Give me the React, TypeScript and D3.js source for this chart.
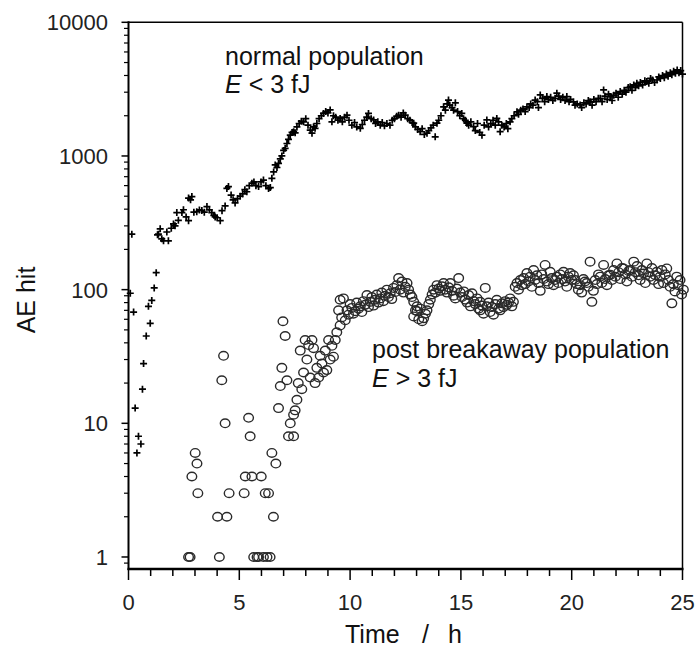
import React from 'react';
import * as d3 from 'd3';

// normal population (E < 3 fJ): [time h, AE hits]
const normalHits: [number, number][] = [
  [0.08, 94], [0.15, 260], [0.23, 68], [0.3, 13], [0.38, 6], [0.45, 8], [0.56, 7], [0.63, 18], [0.68, 28],
  [0.8, 45], [0.9, 75], [0.98, 56], [1.05, 83], [1.16, 103], [1.25, 134],
  [1.31, 257], [1.35, 260], [1.43, 285], [1.5, 240], [1.58, 232], [1.73, 270], [1.8, 232], [1.93, 288],
  [2.03, 310], [2.1, 300], [2.18, 377], [2.25, 330], [2.41, 377], [2.48, 396], [2.6, 350], [2.71, 328],
  [2.71, 484], [2.8, 470], [2.86, 497], [2.95, 380], [3.08, 383], [3.2, 395], [3.31, 391], [3.42, 380],
  [3.54, 418], [3.65, 395], [3.76, 377], [3.85, 360], [3.91, 350], [4.0, 345], [4.14, 328], [4.22, 390],
  [4.36, 423], [4.44, 572], [4.51, 590], [4.63, 510], [4.72, 470], [4.81, 445], [4.92, 480], [5.04, 500],
  [5.15, 520], [5.25, 560], [5.34, 540], [5.45, 600], [5.57, 625], [5.66, 640], [5.75, 600], [5.87, 590],
  [5.98, 640], [6.09, 660], [6.2, 600], [6.32, 570], [6.4, 580], [6.47, 680], [6.55, 760], [6.62, 857],
  [6.7, 820], [6.77, 880], [6.85, 950], [6.92, 1000], [7.0, 1100], [7.07, 1140], [7.15, 1240], [7.22, 1330],
  [7.3, 1430], [7.38, 1500], [7.45, 1520], [7.52, 1490], [7.6, 1650], [7.7, 1750], [7.8, 1820], [7.9, 1800],
  [8.0, 1900], [8.1, 1700], [8.2, 1560], [8.28, 1480], [8.35, 1650], [8.42, 1610], [8.5, 1750], [8.6, 1900],
  [8.7, 2000], [8.8, 2080], [8.9, 2150], [9.0, 2100], [9.1, 2210], [9.18, 1800], [9.25, 2000], [9.35, 1950],
  [9.45, 1850], [9.55, 1910], [9.65, 1800], [9.75, 1950], [9.86, 2020], [9.95, 1850], [10.08, 1700],
  [10.2, 1780], [10.3, 1650], [10.46, 1610], [10.55, 1720], [10.65, 1850], [10.75, 1950], [10.83, 2080],
  [10.95, 1900], [11.06, 1860], [11.15, 1750], [11.25, 1800], [11.36, 1700], [11.45, 1780], [11.55, 1680],
  [11.66, 1750], [11.8, 1700], [11.9, 1850], [12.0, 1900], [12.1, 1980], [12.19, 2020], [12.3, 1950],
  [12.4, 2100], [12.49, 2020], [12.6, 1900], [12.7, 1850], [12.8, 1780], [12.87, 1760], [12.95, 1650],
  [13.05, 1580], [13.16, 1520], [13.25, 1600], [13.35, 1450], [13.47, 1480], [13.55, 1550], [13.65, 1620],
  [13.75, 1700], [13.84, 1390], [13.92, 1760], [14.0, 1850], [14.1, 2000], [14.22, 2330], [14.3, 2200],
  [14.38, 2450], [14.44, 2620], [14.5, 2400], [14.6, 2300], [14.67, 2200], [14.75, 2500], [14.85, 2150],
  [14.95, 2000], [15.04, 2080], [15.12, 1900], [15.2, 1850], [15.27, 1760], [15.35, 1700], [15.45, 1800],
  [15.57, 1660], [15.65, 1550], [15.75, 1750], [15.85, 1500], [15.95, 1430], [16.05, 1700], [16.17, 1860],
  [16.25, 1650], [16.35, 1750], [16.45, 1850], [16.55, 1700], [16.62, 1910], [16.7, 1800], [16.77, 1520],
  [16.85, 1700], [16.95, 1650], [17.05, 1750], [17.12, 1600], [17.22, 1800], [17.3, 1900], [17.4, 2000],
  [17.53, 2140], [17.6, 2050], [17.7, 2200], [17.8, 2250], [17.9, 2150], [17.98, 2330], [18.08, 2300],
  [18.15, 2450], [18.25, 2400], [18.35, 2620], [18.45, 2550], [18.5, 2300], [18.58, 2860], [18.68, 2700],
  [18.78, 2550], [18.88, 2780], [18.95, 2650], [19.05, 2750], [19.15, 2600], [19.25, 2700], [19.33, 2950],
  [19.42, 2800], [19.5, 2650], [19.6, 2750], [19.7, 2600], [19.78, 2780], [19.88, 2550], [19.95, 2650],
  [20.08, 2540], [20.15, 2400], [20.25, 2450], [20.38, 2410], [20.45, 2300], [20.55, 2500], [20.65, 2450],
  [20.75, 2600], [20.83, 2540], [20.92, 2400], [21.0, 2650], [21.1, 2550], [21.2, 2700], [21.29, 2700],
  [21.37, 2550], [21.44, 3120], [21.5, 2800], [21.6, 2650], [21.66, 2900], [21.74, 2780], [21.82, 2600],
  [21.9, 2850], [22.0, 2950], [22.1, 2750], [22.19, 3030], [22.28, 2900], [22.37, 3100], [22.45, 3000],
  [22.55, 3250], [22.64, 3300], [22.72, 3100], [22.8, 3400], [22.88, 3250], [22.94, 3500], [23.02, 3350],
  [23.1, 3550], [23.2, 3400], [23.3, 3650], [23.39, 3600], [23.48, 3500], [23.56, 3800], [23.65, 3700],
  [23.74, 3550], [23.85, 3700], [23.93, 3900], [24.0, 3800], [24.1, 4000], [24.18, 3850], [24.27, 4100],
  [24.35, 3950], [24.45, 4200], [24.52, 4050], [24.6, 4300], [24.68, 4150], [24.76, 4400], [24.84, 4200],
  [24.92, 4350], [25.0, 4100],
];

// post breakaway population (E > 3 fJ)
const breakawayHits: [number, number][] = [
  [2.71, 1], [2.78, 1], [2.86, 4], [3.01, 6], [3.09, 5], [3.13, 3], [4.02, 2], [4.1, 1], [4.21, 21], [4.29, 32],
  [4.36, 10], [4.44, 2], [4.54, 3], [5.22, 3], [5.27, 4], [5.42, 11], [5.49, 8], [5.57, 4], [5.65, 1], [5.8, 1],
  [5.87, 1], [5.99, 4], [6.09, 1], [6.17, 3], [6.25, 1], [6.32, 3], [6.39, 1], [6.47, 6], [6.54, 2], [6.65, 5],
  [6.77, 13], [6.85, 19], [6.92, 26], [6.97, 58], [7.07, 45], [7.15, 21], [7.22, 8], [7.3, 10], [7.45, 8],
  [7.45, 11.6], [7.52, 12.5], [7.6, 15], [7.66, 20], [7.75, 35], [7.82, 18], [7.9, 24], [7.97, 42], [8.05, 30],
  [8.13, 38.5], [8.2, 22], [8.28, 42], [8.35, 36.5], [8.42, 20], [8.5, 26], [8.58, 22], [8.65, 32], [8.73, 28],
  [8.8, 24], [8.88, 35], [8.95, 25], [9.03, 42], [9.1, 30], [9.18, 38], [9.25, 31.5], [9.33, 42], [9.4, 48],
  [9.48, 70], [9.55, 54], [9.55, 84], [9.62, 62], [9.7, 86], [9.78, 59], [9.86, 70], [9.93, 65], [10.0, 78],
  [10.08, 73], [10.15, 66], [10.23, 69], [10.3, 80], [10.38, 72], [10.46, 75], [10.53, 68], [10.6, 82],
  [10.68, 77], [10.76, 91], [10.83, 74], [10.91, 81], [10.98, 88], [11.06, 76], [11.13, 84], [11.2, 92],
  [11.28, 80], [11.36, 86], [11.43, 95], [11.5, 82], [11.58, 90], [11.66, 100], [11.73, 88], [11.81, 94],
  [11.88, 85], [11.96, 103], [12.04, 96], [12.11, 108], [12.19, 122], [12.26, 100], [12.34, 115], [12.41, 95],
  [12.49, 105], [12.57, 112], [12.64, 100], [12.72, 92], [12.79, 88], [12.87, 81], [12.87, 63], [12.95, 70],
  [13.02, 75], [13.02, 69], [13.1, 60], [13.17, 72], [13.25, 58], [13.32, 61], [13.4, 66], [13.47, 70],
  [13.55, 78], [13.62, 84], [13.7, 92], [13.77, 100], [13.85, 95], [13.92, 108], [14.0, 102], [14.07, 98],
  [14.15, 106], [14.22, 112], [14.3, 100], [14.37, 95], [14.45, 104], [14.52, 112], [14.6, 98], [14.67, 90],
  [14.75, 86], [14.82, 102], [14.9, 122], [14.97, 95], [15.05, 88], [15.13, 97], [15.2, 84], [15.28, 80],
  [15.35, 91], [15.43, 75], [15.5, 94], [15.58, 82], [15.65, 78], [15.73, 86], [15.8, 72], [15.87, 81],
  [15.87, 70], [15.95, 76], [16.02, 66], [16.1, 103], [16.17, 75], [16.25, 80], [16.32, 68], [16.4, 74],
  [16.47, 65], [16.55, 78], [16.62, 84], [16.7, 72], [16.77, 70], [16.85, 79], [16.92, 74], [17.0, 82],
  [17.07, 77], [17.15, 80], [17.22, 86], [17.3, 75], [17.37, 81], [17.45, 105], [17.53, 112], [17.6, 100],
  [17.68, 118], [17.75, 108], [17.83, 122], [17.9, 110], [17.98, 133], [18.05, 115], [18.13, 125], [18.2, 105],
  [18.28, 140], [18.35, 118], [18.43, 128], [18.5, 112], [18.58, 98], [18.65, 130], [18.73, 120], [18.8, 153],
  [18.88, 115], [18.95, 110], [19.03, 136], [19.1, 122], [19.18, 108], [19.25, 118], [19.33, 125], [19.4, 112],
  [19.48, 130], [19.55, 120], [19.63, 136], [19.7, 115], [19.78, 105], [19.85, 125], [19.93, 133], [20.0, 118],
  [20.08, 128], [20.16, 118], [20.23, 110], [20.3, 100], [20.38, 108], [20.45, 95], [20.53, 120], [20.6, 115],
  [20.68, 112], [20.75, 105], [20.83, 162], [20.91, 81], [20.98, 98], [21.06, 118], [21.14, 110], [21.21, 130],
  [21.29, 125], [21.36, 112], [21.44, 153], [21.51, 120], [21.59, 108], [21.66, 128], [21.74, 129], [21.82, 118],
  [21.89, 140], [21.97, 125], [22.04, 157], [22.12, 135], [22.19, 120], [22.27, 145], [22.34, 144], [22.42, 130],
  [22.49, 115], [22.57, 138], [22.64, 140], [22.72, 125], [22.8, 162], [22.87, 135], [22.95, 150], [23.02, 128],
  [23.09, 118], [23.17, 140], [23.24, 132], [23.32, 112], [23.39, 157], [23.47, 135], [23.54, 125], [23.62, 145],
  [23.69, 118], [23.77, 128], [23.84, 136], [23.92, 110], [23.99, 125], [24.07, 140], [24.14, 112], [24.22, 130],
  [24.29, 144], [24.37, 118], [24.44, 105], [24.52, 79], [24.59, 110], [24.66, 97], [24.74, 125], [24.81, 108],
  [24.89, 118], [24.96, 92], [25.04, 100],
];

const xMajorTicks = [0, 5, 10, 15, 20, 25];
const yMajorTicks = [1, 10, 100, 1000, 10000];

const W = 697;
const H = 650;
const left = 128.5;
const right = 682.5;
const top = 22.3;
const bottom = 569;
const font = '"Liberation Sans", Arial, Helvetica, sans-serif';

const App: React.FC = () => {
  const x = d3.scaleLinear().domain([0, 25]).range([left, right]);
  const y = d3.scaleLog().domain([0.813, 10000]).range([bottom, top]);

  const xMinor = d3.range(0, 26, 1).filter((v) => v % 5 !== 0);
  const yMinor: number[] = [0.9];
  [1, 10, 100, 1000].forEach((d) => {
    for (let k = 2; k <= 9; k++) yMinor.push(d * k);
  });

  return (
    <svg width={W} height={H} style={{ position: 'absolute', left: 0, top: 0, background: 'white' }} fontFamily={font}>
      {/* frame */}
      <line x1={left} x2={right} y1={top} y2={top} stroke="#000" strokeWidth={1.5} />
      <line x1={right} x2={right} y1={top} y2={bottom} stroke="#000" strokeWidth={1.5} />
      <line x1={left} x2={left} y1={top - 1} y2={bottom + 1} stroke="#000" strokeWidth={2} />
      <line x1={left - 1} x2={right + 1} y1={bottom} y2={bottom} stroke="#000" strokeWidth={2.5} />

      {/* x ticks */}
      {xMajorTicks.map((t) => (
        <g key={'xt' + t}>
          <line x1={x(t)} x2={x(t)} y1={bottom} y2={bottom + 11} stroke="#000" strokeWidth={1.5} />
          <text x={x(t)} y={610} textAnchor="middle" fontSize={22} fill="#222">{t}</text>
        </g>
      ))}
      {xMinor.map((t) => (
        <line key={'xm' + t} x1={x(t)} x2={x(t)} y1={bottom} y2={bottom + 7} stroke="#000" strokeWidth={1.5} />
      ))}

      {/* y ticks */}
      {yMajorTicks.map((v) => (
        <g key={'yt' + v}>
          <line x1={left - 7} x2={left} y1={y(v)} y2={y(v)} stroke="#000" strokeWidth={1.5} />
          <text x={108} y={y(v) + 8} textAnchor="end" fontSize={22} fill="#222">{v}</text>
        </g>
      ))}
      {yMinor.map((v) => (
        <line key={'ym' + v} x1={left - 4.5} x2={left} y1={y(v)} y2={y(v)} stroke="#000" strokeWidth={1.2} />
      ))}

      {/* breakaway circles */}
      <g fill="none" stroke="#2a2a2a" strokeWidth={1.4}>
        {breakawayHits.map(([t, v], i) => (
          <ellipse key={'c' + i} cx={x(t)} cy={y(v)} rx={4.8} ry={4.3} />
        ))}
      </g>

      {/* normal crosses */}
      <path
        d={normalHits.map(([t, v]) => `M${x(t) - 3.5},${y(v)}h7M${x(t)},${y(v) - 3.5}v7`).join('')}
        stroke="#000"
        strokeWidth={1.7}
        fill="none"
      />

      {/* annotations */}
      <text x={225} y={65} fontSize={25} fill="#111">normal population</text>
      <text x={225} y={93} fontSize={25} fill="#111">
        <tspan fontStyle="italic">E</tspan> &lt; 3 fJ
      </text>
      <text x={372} y={358} fontSize={25} fill="#111">post breakaway population</text>
      <text x={372} y={387} fontSize={25} fill="#111">
        <tspan fontStyle="italic">E</tspan> &gt; 3 fJ
      </text>

      {/* axis titles */}
      <text transform="translate(35,300) rotate(-90)" textAnchor="middle" fontSize={25} fill="#111">AE hit</text>
      <text x={345} y={643} fontSize={25} fill="#111">Time</text>
      <text x={422} y={643} fontSize={25} fill="#111">/</text>
      <text x={448} y={643} fontSize={25} fill="#111">h</text>
    </svg>
  );
};

export default App;
